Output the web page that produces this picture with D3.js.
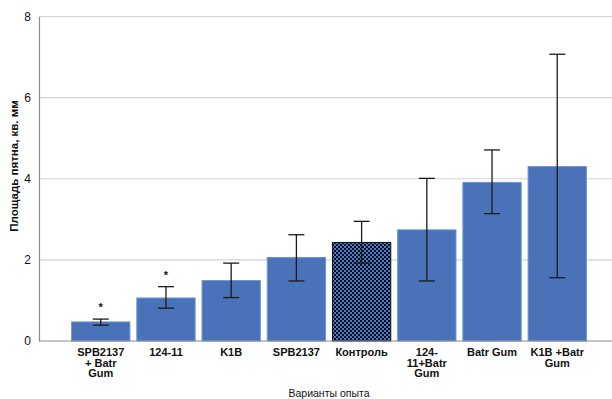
<!DOCTYPE html>
<html>
<head>
<meta charset="utf-8">
<script src="https://cdn.jsdelivr.net/npm/d3@7"></script>
<style>
  html, body { margin: 0; padding: 0; background: #fff; }
  svg { display: block; font-family: "Liberation Sans", Arial, sans-serif; }
</style>
</head>
<body>
<svg id="chart" width="612" height="399"></svg>
<script>
// Experiment variants (multi-line labels) and mean spot area with error ranges
const categories = [
  ["SPB2137", "+ Batr", "Gum"],
  ["124-11"],
  ["K1B"],
  ["SPB2137"],
  ["Контроль"],
  ["124-", "11+Batr", "Gum"],
  ["Batr Gum"],
  ["K1B +Batr", "Gum"]
];
const means = [0.47, 1.06, 1.49, 2.06, 2.43, 2.74, 3.91, 4.30];
const errLow = [0.39, 0.81, 1.07, 1.48, 1.92, 1.48, 3.14, 1.56];
const errHigh = [0.54, 1.34, 1.92, 2.62, 2.95, 4.01, 4.71, 7.07];
const significant = [true, true, false, false, false, false, false, false];
const controlIndex = 4;
const yTicks = [0, 2, 4, 6, 8];

const svg = d3.select("#chart");
const plotLeft = 39, plotRight = 619, plotTop = 16.5, plotBottom = 341;

const keys = categories.map((c, i) => i);
const x = d3.scaleBand().domain(keys).range([plotLeft, plotRight])
  .paddingInner(0.106).paddingOuter(0.5);
const y = d3.scaleLinear().domain([0, 8]).range([plotBottom, plotTop]);

// checkered fill for the control bar
const defs = svg.append("defs");
const pat = defs.append("pattern").attr("id", "checker")
  .attr("width", 4).attr("height", 4).attr("patternUnits", "userSpaceOnUse");
pat.append("rect").attr("width", 4).attr("height", 4).attr("fill", "#4a78c4");
pat.append("rect").attr("width", 2).attr("height", 2).attr("fill", "#0a0f1c");
pat.append("rect").attr("x", 2).attr("y", 2).attr("width", 2).attr("height", 2).attr("fill", "#0a0f1c");

// gridlines
svg.append("g").selectAll("line").data(yTicks.filter(t => t > 0)).join("line")
  .attr("x1", plotLeft).attr("x2", 612)
  .attr("y1", d => y(d)).attr("y2", d => y(d))
  .attr("stroke", "#d4d4d4").attr("stroke-width", 1.2);

// y axis
const yAxis = svg.append("g").attr("transform", `translate(${plotLeft},0)`)
  .call(d3.axisLeft(y).tickValues(yTicks).tickSize(0).tickPadding(8).tickFormat(d3.format("d")));
yAxis.select(".domain").attr("stroke", "#8c8c8c").attr("stroke-width", 1.2);
yAxis.selectAll("text").attr("font-size", 12).attr("fill", "#111")
  .attr("font-family", "Liberation Sans, Arial, sans-serif");

// bars
svg.append("g").selectAll("rect").data(keys).join("rect")
  .attr("x", i => x(i)).attr("width", x.bandwidth())
  .attr("y", i => y(means[i])).attr("height", i => y(0) - y(means[i]))
  .attr("fill", i => i === controlIndex ? "url(#checker)" : "#4a72b8")
  .attr("stroke", i => i === controlIndex ? "#111" : "#6b95d6")
  .attr("stroke-width", 1);

// baseline
svg.append("line").attr("x1", plotLeft).attr("x2", 612)
  .attr("y1", y(0)).attr("y2", y(0))
  .attr("stroke", "#8c8c8c").attr("stroke-width", 1.2);

// error bars
const eb = svg.append("g").attr("stroke", "#1a1a1a").attr("stroke-width", 1.3);
keys.forEach(i => {
  const cx = x(i) + x.bandwidth() / 2;
  eb.append("line").attr("x1", cx).attr("x2", cx).attr("y1", y(errLow[i])).attr("y2", y(errHigh[i]));
  [errLow[i], errHigh[i]].forEach(v => {
    eb.append("line").attr("x1", cx - 8).attr("x2", cx + 8).attr("y1", y(v)).attr("y2", y(v));
  });
});

// significance marks
svg.append("g").selectAll("text").data(keys.filter(i => significant[i])).join("text")
  .attr("x", i => x(i) + x.bandwidth() / 2)
  .attr("y", i => y(errHigh[i]) - 8)
  .attr("text-anchor", "middle").attr("font-size", 11).attr("font-weight", "bold")
  .attr("fill", "#111").text("*");

// category labels
const xl = svg.append("g");
keys.forEach(i => {
  const t = xl.append("text").attr("text-anchor", "middle")
    .attr("font-size", 11).attr("font-weight", "bold").attr("fill", "#111")
    .attr("x", x(i) + x.bandwidth() / 2).attr("y", 356);
  categories[i].forEach((line, k) => {
    t.append("tspan").attr("x", x(i) + x.bandwidth() / 2)
      .attr("dy", k === 0 ? 0 : 10.6).text(line);
  });
});

// axis titles
svg.append("text").attr("transform", "translate(18,166) rotate(-90)")
  .attr("text-anchor", "middle").attr("font-size", 11.5).attr("font-weight", "bold")
  .attr("fill", "#111").text("Площадь пятна, кв. мм");
svg.append("text").attr("x", 329).attr("y", 396.5)
  .attr("text-anchor", "middle").attr("font-size", 10.5).attr("fill", "#111")
  .text("Варианты опыта");
</script>
</body>
</html>
